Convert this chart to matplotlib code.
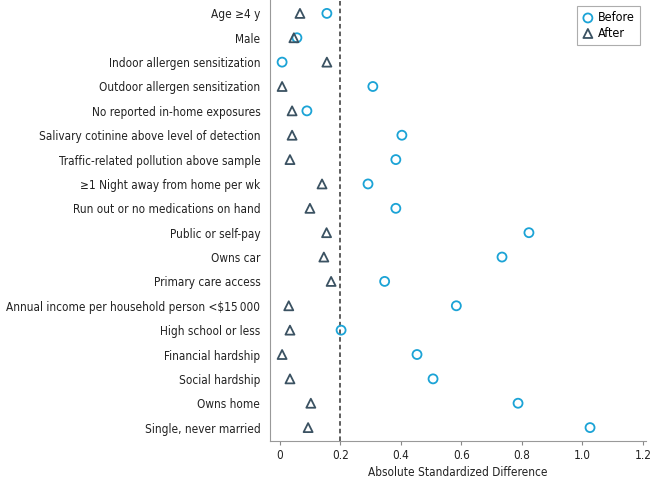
import matplotlib
matplotlib.use("Agg")
import matplotlib.pyplot as plt
from matplotlib import font_manager

# Covariates, top to bottom
labels = [
    "Age \u22654 y",
    "Male",
    "Indoor allergen sensitization",
    "Outdoor allergen sensitization",
    "No reported in-home exposures",
    "Salivary cotinine above level of detection",
    "Traffic-related pollution above sample",
    "\u22651 Night away from home per wk",
    "Run out or no medications on hand",
    "Public or self-pay",
    "Owns car",
    "Primary care access",
    "Annual income per household person <$15\u2009000",
    "High school or less",
    "Financial hardship",
    "Social hardship",
    "Owns home",
    "Single, never married",
]
before = [0.155, 0.056, 0.007, 0.307, 0.089, 0.403, 0.383, 0.291, 0.383,
          0.823, 0.734, 0.346, 0.583, 0.202, 0.453, 0.506, 0.787, 1.025]
after = [0.066, 0.046, 0.155, 0.007, 0.040, 0.040, 0.033, 0.139, 0.099,
         0.154, 0.145, 0.169, 0.029, 0.033, 0.007, 0.033, 0.102, 0.093]
xticks = [0, 0.2, 0.4, 0.6, 0.8, 1.0, 1.2]
xticklabels = ["0", "0.2", "0.4", "0.6", "0.8", "1.0", "1.2"]
threshold = 0.2

BLUE = "#1BA3D6"
SLATE = "#3B5262"
INK = "#222222"

# prefer a condensed face if one is installed
condensed = [f for f in font_manager.fontManager.ttflist
             if f.stretch in ("condensed", "semi-condensed", 600, 700)
             or "Condensed" in f.name or "Narrow" in f.name]
if condensed:
    face = condensed[0]
    plt.rcParams["font.family"] = [face.name, "DejaVu Sans"]
    plt.rcParams["font.stretch"] = face.stretch
    size = 8.5
else:
    plt.rcParams["font.family"] = ["Roboto", "DejaVu Sans"]
    size = 8.3
plt.rcParams["font.size"] = size

fig = plt.figure(figsize=(6.51, 4.79), dpi=100)
ax = fig.add_axes([270 / 651, 1 - 441 / 479, 376 / 651, 441 / 479])

y = list(range(len(labels)))
ax.scatter(before, y, marker="o", s=42, facecolors="none", edgecolors=BLUE,
           linewidths=1.3, label="Before", zorder=3)
ax.scatter(after, y, marker="^", s=42, facecolors="none", edgecolors=SLATE,
           linewidths=1.3, label="After", zorder=3)
ax.axvline(threshold, color="#333333", ls=(0, (3, 2)), lw=1.1, zorder=1)

ax.set_ylim(len(labels) - 0.45, -0.55)
ax.set_xlim(-0.033, 1.21)
ax.set_yticks(y, labels=labels)
ax.set_xticks(xticks, labels=xticklabels)
ax.tick_params(axis="y", length=0, pad=7, labelcolor=INK)
ax.tick_params(axis="x", length=3, pad=3, color="#888888", labelcolor=INK)
ax.set_xlabel("Absolute Standardized Difference", color=INK, labelpad=3)
for side in ("top", "right"):
    ax.spines[side].set_visible(False)
for side in ("left", "bottom"):
    ax.spines[side].set_color("#999999")

leg = ax.legend(loc="upper right", bbox_to_anchor=(1.0, 1.0), frameon=True,
                fancybox=False, handletextpad=0.3, borderpad=0.4,
                handlelength=1.0, labelspacing=0.2, fontsize=size + 0.5)
leg.get_frame().set_edgecolor("#999999")
leg.get_frame().set_linewidth(0.8)

fig.savefig("out.png", dpi=100)
